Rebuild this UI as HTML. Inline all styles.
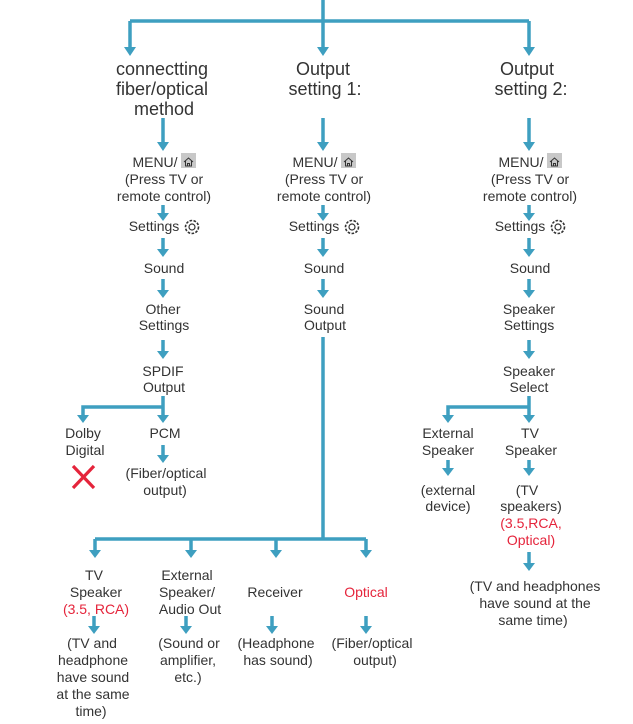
<!DOCTYPE html>
<html><head><meta charset="utf-8"><style>
html,body{margin:0;padding:0;background:#fff;}
svg{display:block;}
text{font-family:"Liberation Sans",sans-serif;fill:#333;font-size:14px;text-anchor:middle;}
.h{font-size:18px;}
.r{fill:#e5243b;}
</style></head><body>
<svg width="633" height="724" viewBox="0 0 633 724">
<g stroke="#3e9fc0" stroke-width="3.5" fill="none">
<path d="M323 0V21M130 21H529M130 21V48M323 21V48M529 21V48"/>
<path d="M163 118V143M323 118V143M529 118V143"/>
<path d="M163 205V214M323 205V214M529 205V214"/>
<path d="M163 238V250M323 238V250M529 238V250"/>
<path d="M163 279V291M323 279V291M529 279V291"/>
<path d="M163 340V352M529 340V352"/>
<path d="M163 396V407H83V416M163 407V416"/>
<path d="M529 396V407H448V416M529 407V416"/>
<path d="M163 445V456M448 460V469M529 460V469M529 552V564"/>
<path d="M323 337V539M95 539H366M95 539V551M191 539V551M276 539V551M366 539V551"/>
<path d="M94 616V627M186 616V627M272 616V627M366 616V627"/>
</g>
<g fill="#3e9fc0">
<path d="M124 47h12l-6 9zM317 47h12l-6 9zM523 47h12l-6 9z"/>
<path d="M157 142h12l-6 9zM317 142h12l-6 9zM523 142h12l-6 9z"/>
<path d="M157 213h12l-6 8zM317 213h12l-6 8zM523 213h12l-6 8z"/>
<path d="M157 249h12l-6 8zM317 249h12l-6 8zM523 249h12l-6 8z"/>
<path d="M157 290h12l-6 8zM317 290h12l-6 8zM523 290h12l-6 8z"/>
<path d="M157 351h12l-6 8zM523 351h12l-6 8z"/>
<path d="M77 415h12l-6 8zM157 415h12l-6 8zM442 415h12l-6 8zM523 415h12l-6 8z"/>
<path d="M157 455h12l-6 8zM442 468h12l-6 8zM523 468h12l-6 8zM523 563h12l-6 8z"/>
<path d="M89 550h12l-6 8zM185 550h12l-6 8zM270 550h12l-6 8zM360 550h12l-6 8z"/>
<path d="M88 626h12l-6 8zM180 626h12l-6 8zM266 626h12l-6 8zM360 626h12l-6 8z"/>
</g>
<text class="h" x="162" y="75">connectting</text>
<text class="h" x="162" y="95">fiber/optical</text>
<text class="h" x="164" y="115">method</text>
<text class="h" x="323" y="75">Output</text>
<text class="h" x="325" y="95">setting 1:</text>
<text class="h" x="527" y="75">Output</text>
<text class="h" x="531" y="95">setting 2:</text>
<g id="m">
<text x="155" y="167">MENU/</text>
<rect x="181" y="153" width="15" height="15" fill="#c8c8c8"/>
<path d="M184 162l4.5-4 4.5 4M185.5 161v5h6v-5M187.5 166v-2.5h2v2.5" stroke="#333" stroke-width="1" fill="none"/>
<text x="164" y="184">(Press TV or</text>
<text x="164" y="201">remote control)</text>
<text x="154" y="231">Settings</text>
<circle cx="192" cy="227" r="6.5" stroke="#333" stroke-width="1.6" fill="none" stroke-dasharray="2.6 1.4"/>
<circle cx="192" cy="227" r="3" stroke="#333" stroke-width="1.2" fill="none"/>
<text x="164" y="273">Sound</text>
</g>
<use href="#m" x="160"/>
<use href="#m" x="366"/>
<text x="163" y="314">Other</text>
<text x="164" y="330">Settings</text>
<text x="163" y="376">SPDIF</text>
<text x="164" y="392">Output</text>
<text x="83" y="438">Dolby</text>
<text x="85" y="455">Digital</text>
<text x="165" y="438">PCM</text>
<path d="M73 466L94 488M94 466L73 488" stroke="#e5243b" stroke-width="3.2"/>
<text x="166" y="478">(Fiber/optical</text>
<text x="165" y="495">output)</text>
<text x="324" y="314">Sound</text>
<text x="325" y="330">Output</text>
<text x="529" y="314">Speaker</text>
<text x="529" y="330">Settings</text>
<text x="529" y="376">Speaker</text>
<text x="529" y="392">Select</text>
<text x="448" y="438">External</text>
<text x="448" y="455">Speaker</text>
<text x="530" y="438">TV</text>
<text x="531" y="455">Speaker</text>
<text x="448" y="495">(external</text>
<text x="448" y="511">device)</text>
<text x="527" y="495">(TV</text>
<text x="531" y="511">speakers)</text>
<text x="531" y="528" class="r">(3.5,RCA,</text>
<text x="531" y="545" class="r">Optical)</text>
<text x="535" y="591">(TV and headphones</text>
<text x="535" y="608">have sound at the</text>
<text x="533" y="625">same time)</text>
<text x="94" y="580">TV</text>
<text x="96" y="597">Speaker</text>
<text x="96" y="614" class="r">(3.5, RCA)</text>
<text x="187" y="580">External</text>
<text x="187" y="597">Speaker/</text>
<text x="190" y="614">Audio Out</text>
<text x="275" y="597">Receiver</text>
<text x="366" y="597" class="r">Optical</text>
<text x="92" y="648">(TV and</text>
<text x="93" y="665">headphone</text>
<text x="93" y="682">have sound</text>
<text x="93" y="699">at the same</text>
<text x="91" y="716">time)</text>
<text x="189" y="648">(Sound or</text>
<text x="188" y="665">amplifier,</text>
<text x="188" y="682">etc.)</text>
<text x="276" y="648">(Headphone</text>
<text x="278" y="665">has sound)</text>
<text x="372" y="648">(Fiber/optical</text>
<text x="375" y="665">output)</text>
</svg>
</body></html>
